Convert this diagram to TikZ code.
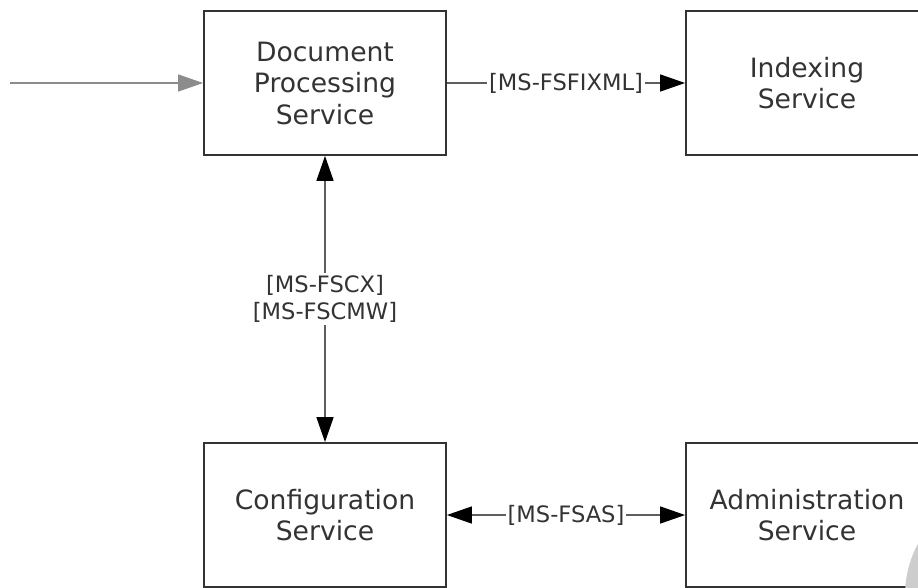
\documentclass[tikz,border=0pt]{standalone}
\usepackage{fontspec}
\setmainfont{DejaVu Sans}
\usetikzlibrary{arrows.meta}
\definecolor{boxline}{HTML}{333333}
\definecolor{txtgray}{HTML}{333333}
\definecolor{wiregray}{HTML}{5E5E5E}
\definecolor{feedgray}{HTML}{8C8C8C}
\definecolor{blobgray}{HTML}{CDCDCD}
\tikzset{
  svcbox/.style={draw=boxline, line width=1.8pt, minimum width=242pt, minimum height=144pt,
    inner sep=0pt, align=center, text=txtgray, font=\fontsize{26.6}{31.5}\selectfont},
  wire/.style={draw=wiregray, line width=1.4pt},
  protolabel/.style={fill=white, text=txtgray, inner sep=2pt, align=center,
    font=\fontsize{22.6}{27}\selectfont},
  headtip/.style={-{Triangle[length=25pt,width=17pt,color=black]}},
  bothtip/.style={{Triangle[length=25pt,width=17pt,color=black]}-{Triangle[length=25pt,width=17pt,color=black]}},
}

\begin{document}
\begin{tikzpicture}[x=1pt,y=-1pt]
		%%%%% FRAME %%%%%
		\useasboundingbox (0,0) rectangle (918,587);
		\clip (0,0) rectangle (918,587);
		
		%%%%% SERVICES %%%%%
		\node[svcbox] (dps) at (325,83) {Document\\Processing\\Service};
		\node[svcbox] (idx) at (807,83) {Indexing\\Service};
		\node[svcbox] (cfg) at (325,515) {Configuration\\Service};
		\node[svcbox] (adm) at (807,515) {Administration\\Service};
		
		%%%%% CONNECTORS %%%%%
		\coordinate (src) at (10,83);
		\draw[line width=1.4pt, draw=feedgray, -{Triangle[length=25pt,width=17pt,color=feedgray]}] (src) -- (dps);
		\draw[wire, headtip] (dps) -- node[protolabel] {[MS-FSFIXML]} (idx);
		\draw[wire, bothtip] (dps) -- node[protolabel] {[MS-FSCX]\\{}[MS-FSCMW]} (cfg);
		\draw[wire, bothtip] (cfg) -- node[protolabel] {[MS-FSAS]} (adm);
		
		%%%%% CORNER %%%%%
		\fill[blobgray] (1013,595) circle (108);
\end{tikzpicture}
\end{document}
